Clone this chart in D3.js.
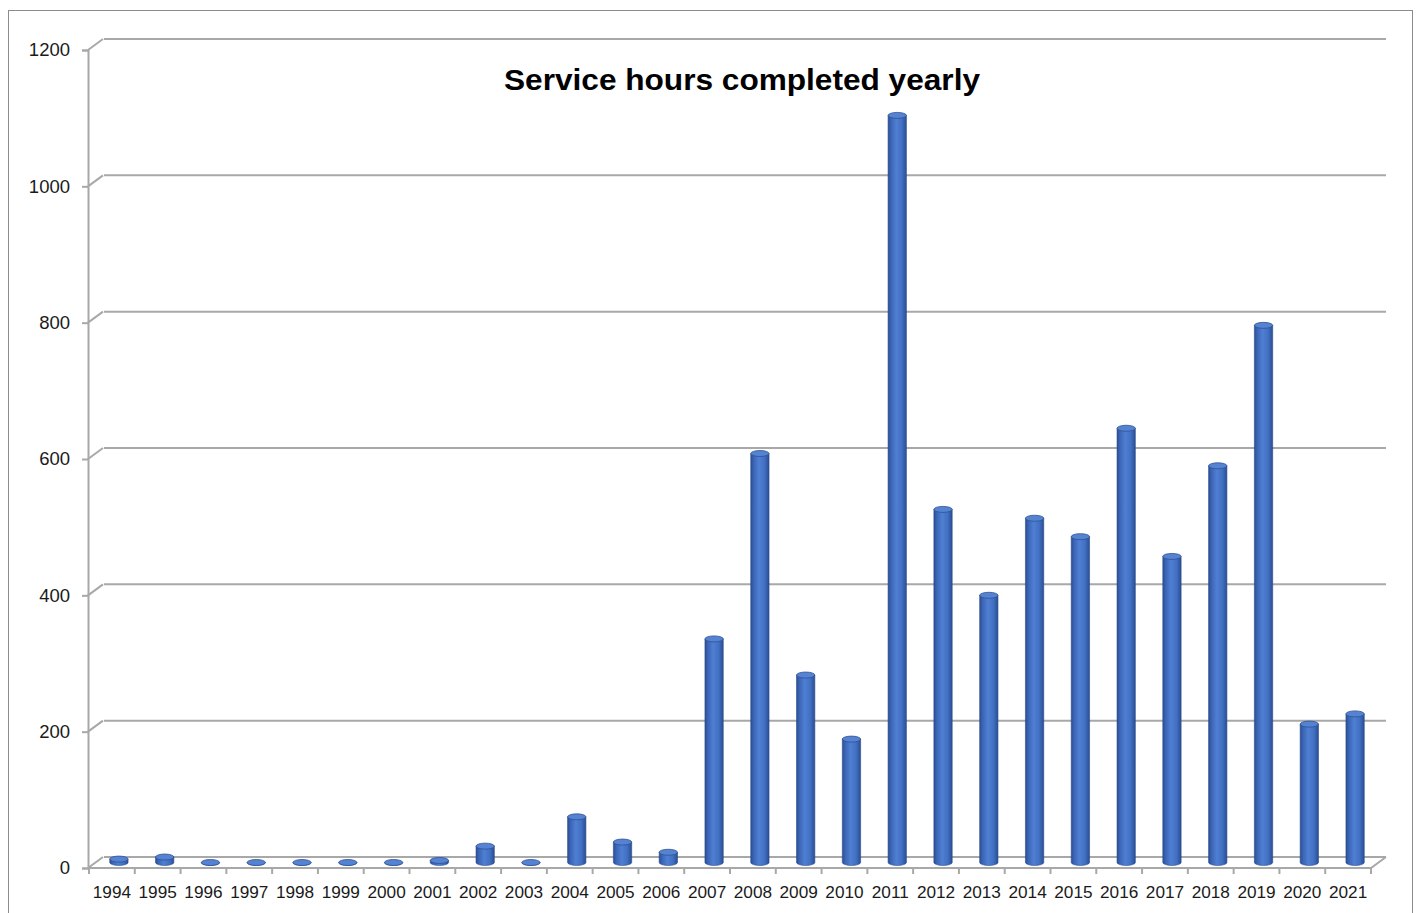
<!DOCTYPE html>
<html>
<head>
<meta charset="utf-8">
<script src="https://cdn.jsdelivr.net/npm/d3@7"></script>
<style>
  body { margin: 0; background: #fff; }
  svg { display: block; }
</style>
</head>
<body>
<div id="chart"></div>
<script>
const years = ['1994','1995','1996','1997','1998','1999','2000','2001','2002','2003','2004','2005','2006','2007',
               '2008','2009','2010','2011','2012','2013','2014','2015','2016','2017','2018','2019','2020','2021'];
const hours = [5, 8, 0, 0, 0, 0, 0, 3, 24, 0, 67, 30, 15, 328,
               600, 275, 181, 1096, 518, 392, 505, 478, 637, 449, 582, 788, 203, 218];
const yTicks = [0, 200, 400, 600, 800, 1000, 1200];
const chartTitle = 'Service hours completed yearly';

const W = 1419, H = 913;
const depth = { dx: 15, dy: -11 };   // back wall offset
const mid = { dx: depth.dx / 2, dy: depth.dy / 2 };

const svg = d3.select('#chart').append('svg')
  .attr('width', W).attr('height', H);

const defs = svg.append('defs');
const grad = defs.append('linearGradient').attr('id', 'cyl')
  .attr('x1', '0%').attr('x2', '100%').attr('y1', '0%').attr('y2', '0%');
grad.append('stop').attr('offset', '0%').attr('stop-color', '#2b4f96');
grad.append('stop').attr('offset', '18%').attr('stop-color', '#3d67b8');
grad.append('stop').attr('offset', '45%').attr('stop-color', '#4f7fd3');
grad.append('stop').attr('offset', '75%').attr('stop-color', '#4270c2');
grad.append('stop').attr('offset', '100%').attr('stop-color', '#2a4e94');

// outer frame
svg.append('rect')
  .attr('x', 8.5).attr('y', 10.5).attr('width', 1404).attr('height', 920)
  .attr('fill', 'none').attr('stroke', '#8c8c8c').attr('stroke-width', 1);

const x = d3.scaleBand().domain(years).range([89, 1371])
  .paddingInner(0.6).paddingOuter(0.3);
const y = d3.scaleLinear().domain([0, 1200]).range([868, 50]);

const gridColor = '#a8a8a8';

// back wall gridlines and left wall diagonals
const grid = svg.append('g');
yTicks.forEach(t => {
  grid.append('line')
    .attr('x1', 89 + depth.dx).attr('x2', 1371 + depth.dx)
    .attr('y1', y(t) + depth.dy).attr('y2', y(t) + depth.dy)
    .attr('stroke', gridColor).attr('stroke-width', 2);
  grid.append('line')
    .attr('x1', 88).attr('x2', 88 + depth.dx)
    .attr('y1', y(t)).attr('y2', y(t) + depth.dy)
    .attr('stroke', gridColor).attr('stroke-width', 2);
});

// floor
grid.append('path')
  .attr('d', `M89,${y(0)} L${1371},${y(0)} L${1371 + depth.dx},${y(0) + depth.dy}`)
  .attr('fill', 'none').attr('stroke', gridColor).attr('stroke-width', 2);

// left axis
const yAxis = svg.append('g').attr('transform', 'translate(88,0)')
  .call(d3.axisLeft(y).tickValues(yTicks).tickSize(6).tickPadding(12).tickFormat(d3.format('d')));
yAxis.select('.domain').attr('stroke', gridColor).attr('stroke-width', 2);
yAxis.selectAll('.tick line').attr('stroke', gridColor).attr('stroke-width', 2);
yAxis.selectAll('.tick text')
  .attr('font-family', '"Liberation Sans", Arial, sans-serif')
  .attr('font-size', 18.5).attr('fill', '#1a1a1a');

// bottom category boundary ticks
const step = x.step();
svg.append('g').selectAll('line')
  .data(d3.range(years.length + 1))
  .join('line')
  .attr('x1', i => 89 + i * step).attr('x2', i => 89 + i * step)
  .attr('y1', y(0)).attr('y2', y(0) + 6)
  .attr('stroke', gridColor).attr('stroke-width', 2);

// x labels
const xAxis = svg.append('g').attr('transform', `translate(0,${y(0)})`)
  .call(d3.axisBottom(x).tickSize(0).tickPadding(18));
xAxis.select('.domain').remove();
xAxis.selectAll('.tick text')
  .attr('font-family', '"Liberation Sans", Arial, sans-serif')
  .attr('font-size', 17.2).attr('fill', '#1a1a1a');

// cylinders
const bw = x.bandwidth();
const ry = 3;
const bars = svg.append('g').selectAll('g')
  .data(years.map((yr, i) => ({ yr, v: hours[i] })))
  .join('g')
  .attr('transform', d => `translate(${x(d.yr) + mid.dx - 0.5},${mid.dy})`);

bars.append('path')
  .attr('d', d => {
    const top = y(d.v), bot = y(0);
    return `M0,${top} L0,${bot} A${bw / 2},${ry} 0 0 0 ${bw},${bot} L${bw},${top} Z`;
  })
  .attr('fill', 'url(#cyl)')
  .attr('stroke', '#2a4a88').attr('stroke-width', 0.6);

bars.append('ellipse')
  .attr('cx', bw / 2).attr('cy', d => y(d.v))
  .attr('rx', bw / 2).attr('ry', ry)
  .attr('fill', '#5682d2')
  .attr('stroke', '#2d5096').attr('stroke-width', 0.8);

// title
svg.append('text')
  .attr('x', 504).attr('y', 90)
  .attr('font-family', '"Liberation Sans", Arial, sans-serif')
  .attr('font-weight', 'bold').attr('font-size', 30)
  .attr('textLength', 476).attr('lengthAdjust', 'spacingAndGlyphs')
  .attr('fill', '#000')
  .text(chartTitle);
</script>
</body>
</html>
